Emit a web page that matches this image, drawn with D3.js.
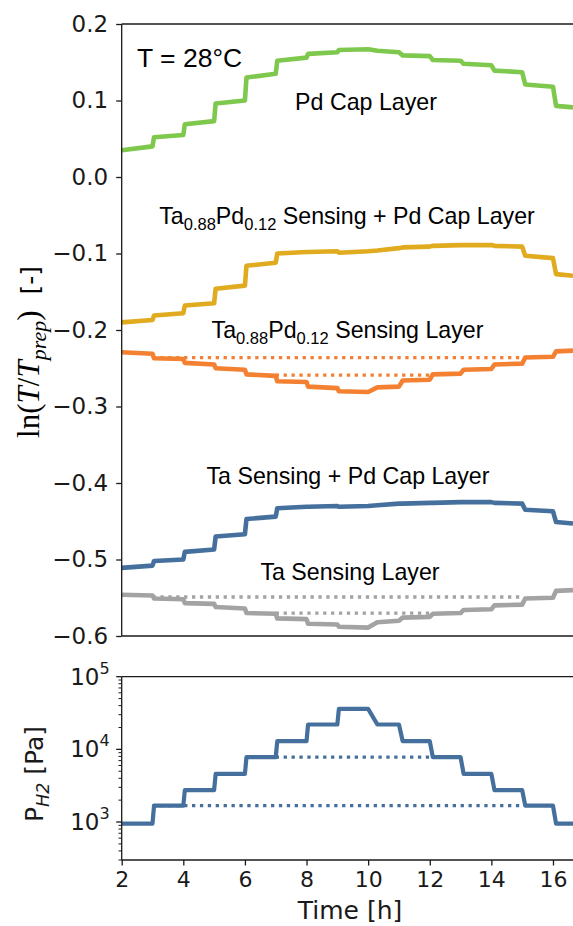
<!DOCTYPE html>
<html>
<head>
<meta charset="utf-8">
<script src="https://cdn.jsdelivr.net/npm/d3@7"></script>
<style>
  html, body { margin: 0; padding: 0; background: #fff; }
  svg { display: block; }
</style>
</head>
<body>
<svg id="fig" width="573" height="926"></svg>
<script>
// Start time of each hydrogen pressure step (h) and the time each change has settled
const stepStart = [2, 3, 4, 5, 6, 7, 8, 9, 10, 11, 12, 13, 14, 15, 16];
const settle = [3.05, 4.05, 5.05, 6.05, 7.05, 8.05, 9.05, 10.3, 11.12, 12.1, 13.1, 14.1, 15.1, 16.1];
const tEnd = 16.65;

// Hydrogen partial pressure of each step (Pa)
const pressure = [950, 1680, 2750, 4600, 7800, 13000, 22000, 36000, 22000, 13000, 7800, 4600, 2750, 1680, 950];

// ln(T/Tprep) at the beginning and end of every pressure step
const pdCap = [[0.035, 0.040], [0.052, 0.055], [0.069, 0.073], [0.096, 0.100], [0.130, 0.135],
  [0.152, 0.156], [0.161, 0.163], [0.166, 0.167], [0.165, 0.163], [0.159, 0.158],
  [0.153, 0.152], [0.148, 0.146], [0.139, 0.137], [0.121, 0.118], [0.093, 0.091]];
const taPdCap = [[-0.190, -0.187], [-0.181, -0.178], [-0.168, -0.165], [-0.146, -0.142], [-0.116, -0.112],
  [-0.100, -0.098], [-0.098, -0.097], [-0.099, -0.097], [-0.096, -0.093], [-0.092, -0.091],
  [-0.090, -0.089], [-0.089, -0.089], [-0.090, -0.091], [-0.103, -0.106], [-0.127, -0.129]];
const taPdSensing = [[-0.229, -0.231], [-0.237, -0.238], [-0.243, -0.245], [-0.250, -0.252], [-0.258, -0.260],
  [-0.267, -0.268], [-0.274, -0.276], [-0.280, -0.281], [-0.275, -0.274], [-0.266, -0.265],
  [-0.258, -0.257], [-0.252, -0.251], [-0.245, -0.244], [-0.236, -0.235], [-0.228, -0.227]];
const taCap = [[-0.511, -0.508], [-0.502, -0.500], [-0.490, -0.487], [-0.470, -0.467], [-0.447, -0.444],
  [-0.433, -0.431], [-0.431, -0.430], [-0.431, -0.430], [-0.429, -0.427], [-0.427, -0.426],
  [-0.426, -0.425], [-0.425, -0.425], [-0.426, -0.427], [-0.435, -0.437], [-0.451, -0.453]];
const taSensing = [[-0.546, -0.547], [-0.551, -0.552], [-0.557, -0.558], [-0.562, -0.564], [-0.570, -0.571],
  [-0.577, -0.578], [-0.584, -0.585], [-0.588, -0.589], [-0.582, -0.580], [-0.576, -0.575],
  [-0.571, -0.570], [-0.566, -0.565], [-0.560, -0.559], [-0.551, -0.550], [-0.541, -0.540]];

// Dotted guides: levels reached at 1680 Pa and 7800 Pa on the way up, and their time spans
const guideSpans = [[3, 15], [7, 12]];
const taPdGuides = [-0.236, -0.259];
const taGuides = [-0.549, -0.570];
const pressureGuides = [1680, 7800];

// Tick values
const lnTicks = [0.2, 0.1, 0.0, -0.1, -0.2, -0.3, -0.4, -0.5, -0.6];
const timeTicks = [2, 4, 6, 8, 10, 12, 14, 16];
const decadeTicks = [3, 4, 5];

const colors = {
  pdCap: "#7ec94d",
  taPdCap: "#e1ab1f",
  taPdSensing: "#f38131",
  taCap: "#45709d",
  taSensing: "#a3a3a3",
  pressure: "#45709d"
};

const SANS = "'DejaVu Sans', sans-serif";
const ARIAL = "'Liberation Sans', Arial, sans-serif";
const SERIF = "'Liberation Serif', 'DejaVu Serif', serif";
const INK = "#1a1a1a";

const svg = d3.select("#fig");
svg.append("rect").attr("width", 573).attr("height", 926).attr("fill", "#fff");

const x = d3.scaleLinear().domain([2, tEnd]).range([121.7, 573]);
const yTop = d3.scaleLinear().domain([-0.6, 0.2]).range([636, 24]);
const yBot = d3.scaleLog().domain([300, 1e5]).range([860, 676.7]);

// Turn per-step [start, end] values into a polyline with short transitions
function stepPoints(levels) {
  const pts = [];
  levels.forEach((lv, i) => {
    const t0 = i === 0 ? stepStart[0] : settle[i - 1];
    const t1 = i < levels.length - 1 ? stepStart[i + 1] : tEnd;
    const v0 = Array.isArray(lv) ? lv[0] : lv;
    const v1 = Array.isArray(lv) ? lv[1] : lv;
    pts.push([t0, v0], [t1, v1]);
  });
  return pts;
}

// ---------- upper panel ----------
const upper = svg.append("g");
const lineUpper = d3.line().x(d => x(d[0])).y(d => yTop(d[1]));

function guides(g, levels, yScale, color) {
  levels.forEach((v, i) => {
    g.append("line")
      .attr("x1", x(guideSpans[i][0])).attr("x2", x(guideSpans[i][1]))
      .attr("y1", yScale(v)).attr("y2", yScale(v))
      .attr("stroke", color).attr("stroke-width", 3.3)
      .attr("stroke-dasharray", "3.3,4.6");
  });
}

guides(upper, taPdGuides, yTop, colors.taPdSensing);
guides(upper, taGuides, yTop, colors.taSensing);

[[pdCap, colors.pdCap], [taPdCap, colors.taPdCap], [taPdSensing, colors.taPdSensing],
 [taCap, colors.taCap], [taSensing, colors.taSensing]].forEach(([data, c]) => {
  upper.append("path")
    .attr("d", lineUpper(stepPoints(data)))
    .attr("fill", "none").attr("stroke", c)
    .attr("stroke-width", 4.6).attr("stroke-linejoin", "round");
});

// y axis of the upper panel
const axUpper = upper.append("g").attr("transform", `translate(${x(2)},0)`)
  .call(d3.axisLeft(yTop).tickValues(lnTicks).tickFormat(d3.format(".1f")).tickSize(5.5).tickPadding(8));
axUpper.select(".domain").remove();
axUpper.selectAll(".tick line").attr("stroke", INK).attr("stroke-width", 1.3);
axUpper.selectAll(".tick text").attr("font-family", SANS).attr("font-size", 23).attr("fill", INK);

// spines
upper.append("line").attr("x1", x(2)).attr("x2", 573).attr("y1", yTop(0.2)).attr("y2", yTop(0.2))
  .attr("stroke", INK).attr("stroke-width", 1.3);
upper.append("line").attr("x1", x(2)).attr("x2", 573).attr("y1", yTop(-0.6)).attr("y2", yTop(-0.6))
  .attr("stroke", INK).attr("stroke-width", 1.3);
upper.append("line").attr("x1", x(2)).attr("x2", x(2)).attr("y1", yTop(0.2)).attr("y2", yTop(-0.6))
  .attr("stroke", INK).attr("stroke-width", 1.3);

// annotations
upper.append("text").attr("x", 137).attr("y", 67)
  .attr("font-family", ARIAL).attr("font-size", 26.5).attr("fill", "#000")
  .text("T = 28°C");

// parts: plain strings, or {sub: "..."} for subscripts
function label(g, cx, by, parts) {
  const t = g.append("text").attr("x", cx).attr("y", by).attr("text-anchor", "middle")
    .attr("font-family", ARIAL).attr("font-size", 23.2).attr("fill", "#000");
  let shifted = false;
  parts.forEach(p => {
    if (typeof p === "object") {
      t.append("tspan").attr("font-size", 16.5).attr("dy", shifted ? 0 : 6).text(p.sub);
      shifted = true;
    } else {
      t.append("tspan").attr("dy", shifted ? -6 : 0).text(p);
      shifted = false;
    }
  });
}
label(upper, 366, 110, ["Pd Cap Layer"]);
label(upper, 347, 224, ["Ta", { sub: "0.88" }, "Pd", { sub: "0.12" }, " Sensing + Pd Cap Layer"]);
label(upper, 347.5, 338, ["Ta", { sub: "0.88" }, "Pd", { sub: "0.12" }, " Sensing Layer"]);
label(upper, 348, 484, ["Ta Sensing + Pd Cap Layer"]);
label(upper, 350, 580, ["Ta Sensing Layer"]);

// y label: ln(T/T_prep) [-]
const yl = upper.append("text")
  .attr("transform", `translate(39,352) rotate(-90)`)
  .attr("text-anchor", "middle").attr("font-size", 31).attr("fill", "#000");
yl.append("tspan").attr("font-family", SERIF).text("ln(");
yl.append("tspan").attr("font-family", SERIF).attr("font-style", "italic").text("T");
yl.append("tspan").attr("font-family", SERIF).text("/");
yl.append("tspan").attr("font-family", SERIF).attr("font-style", "italic").text("T");
yl.append("tspan").attr("font-family", SERIF).attr("font-style", "italic").attr("font-size", 22).attr("dy", 7).text("prep");
yl.append("tspan").attr("font-family", SERIF).attr("dy", -7).text(")");
yl.append("tspan").attr("font-family", SANS).attr("font-size", 25).text("\u00a0\u00a0[-]");

// ---------- lower panel ----------
const lower = svg.append("g");
const lineLower = d3.line().x(d => x(d[0])).y(d => yBot(d[1]));

guides(lower, pressureGuides, yBot, colors.pressure);
lower.append("path")
  .attr("d", lineLower(stepPoints(pressure)))
  .attr("fill", "none").attr("stroke", colors.pressure)
  .attr("stroke-width", 4.2).attr("stroke-linejoin", "round");

// log y axis: major ticks at decades, minor ticks in between
const minorVals = [];
[2, 3, 4].forEach(k => { for (let m = 1; m <= 9; m++) { const v = m * Math.pow(10, k); if (v >= 300 && v <= 1e5) minorVals.push(v); } });
lower.selectAll("line.minor").data(minorVals.filter(v => ![1e3, 1e4, 1e5].includes(v))).join("line")
  .attr("class", "minor")
  .attr("x1", x(2) - 3.2).attr("x2", x(2))
  .attr("y1", d => yBot(d)).attr("y2", d => yBot(d))
  .attr("stroke", INK).attr("stroke-width", 1);
decadeTicks.forEach(k => {
  const yy = yBot(Math.pow(10, k));
  lower.append("line").attr("x1", x(2) - 5.5).attr("x2", x(2)).attr("y1", yy).attr("y2", yy)
    .attr("stroke", INK).attr("stroke-width", 1.3);
  const t = lower.append("text").attr("x", x(2) - 12).attr("y", yy + 8)
    .attr("text-anchor", "end").attr("font-family", SANS).attr("font-size", 23).attr("fill", INK);
  t.append("tspan").text("10");
  t.append("tspan").attr("font-size", 16).attr("dy", -11).text(String(k));
});

// x axis
const axLower = lower.append("g").attr("transform", `translate(0,${yBot(300)})`)
  .call(d3.axisBottom(x).tickValues(timeTicks).tickFormat(d3.format("d")).tickSize(5.5).tickPadding(6));
axLower.select(".domain").remove();
axLower.selectAll(".tick line").attr("stroke", INK).attr("stroke-width", 1.3);
axLower.selectAll(".tick text").attr("font-family", SANS).attr("font-size", 22).attr("fill", INK);

// spines
[yBot(1e5), yBot(300)].forEach(yy => {
  lower.append("line").attr("x1", x(2)).attr("x2", 573).attr("y1", yy).attr("y2", yy)
    .attr("stroke", INK).attr("stroke-width", 1.3);
});
lower.append("line").attr("x1", x(2)).attr("x2", x(2)).attr("y1", yBot(1e5)).attr("y2", yBot(300))
  .attr("stroke", INK).attr("stroke-width", 1.3);

// axis labels
lower.append("text").attr("x", 350).attr("y", 919).attr("text-anchor", "middle")
  .attr("font-family", SANS).attr("font-size", 25).attr("fill", INK).text("Time [h]");

const pl = lower.append("text")
  .attr("transform", `translate(43,774) rotate(-90)`)
  .attr("text-anchor", "middle").attr("font-family", SANS).attr("font-size", 25).attr("fill", INK);
pl.append("tspan").text("P");
pl.append("tspan").attr("font-size", 17.5).attr("font-style", "italic").attr("dy", 6).text("H2");
pl.append("tspan").attr("dy", -6).text(" [Pa]");
</script>
</body>
</html>
